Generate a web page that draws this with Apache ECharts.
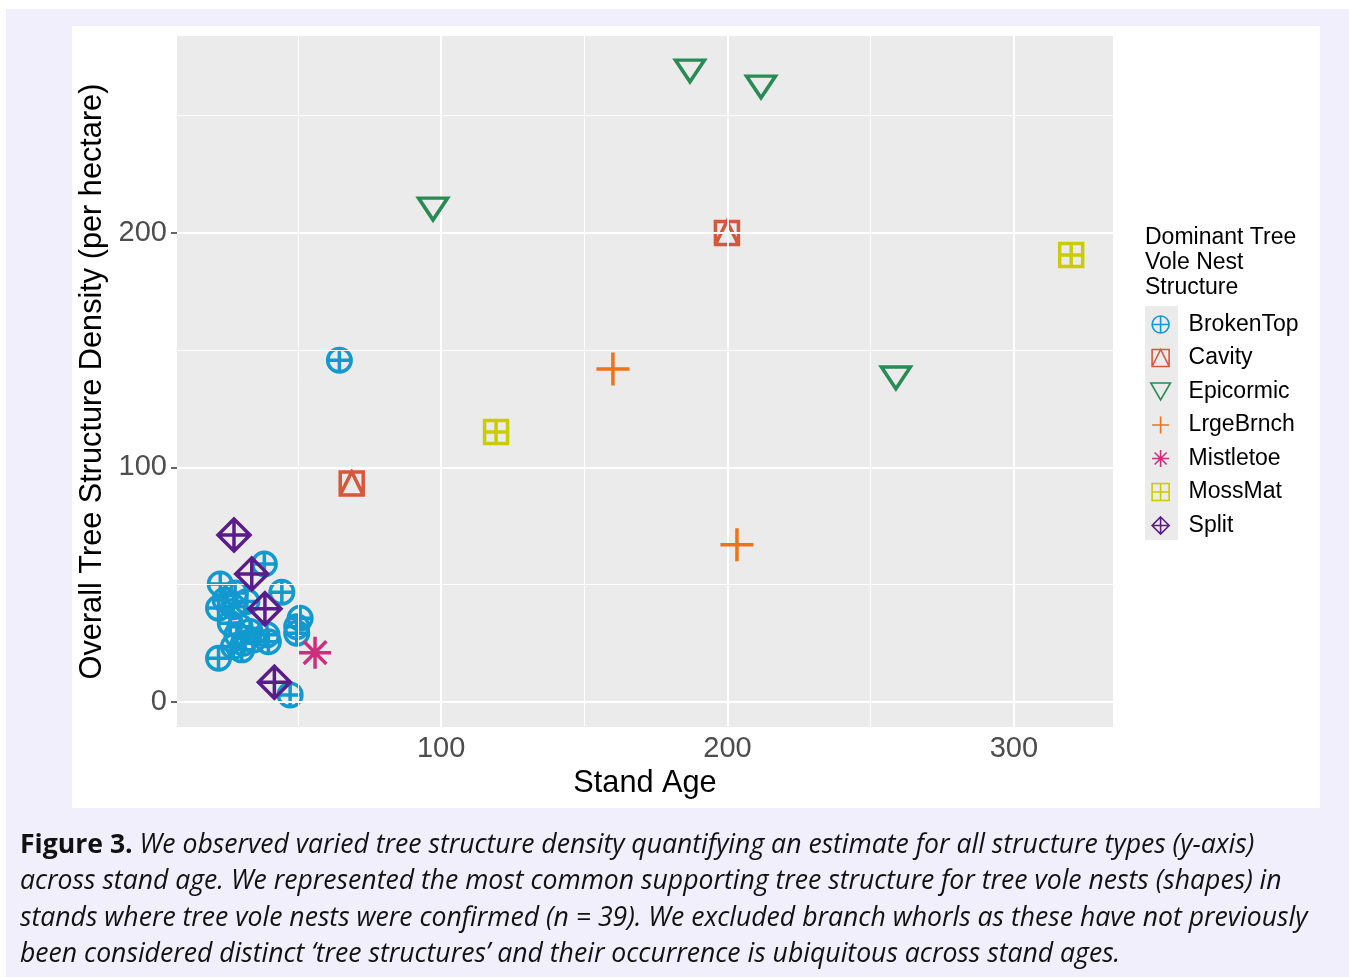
<!DOCTYPE html>
<html>
<head>
<meta charset="utf-8">
<script src="https://cdn.jsdelivr.net/npm/echarts@6/dist/echarts.min.js"></script>
<style>
  html, body { margin: 0; padding: 0; background: #ffffff; width: 1349px; height: 977px; overflow: hidden; }
  #bg { position: absolute; left: 6px; top: 9px; right: 0; bottom: 0; background: #f0effb; }
  #panel { position: absolute; left: 72px; top: 26px; width: 1248px; height: 782px; background: #ffffff; }
  #chart { position: absolute; left: 0; top: 0; width: 1349px; height: 977px; }
  #caption { position: absolute; left: 20px; top: 825px; font-family: 'Open Sans', sans-serif; font-size: 26.6px; line-height: 36.3px; color: #111; font-style: italic; white-space: nowrap; }
  #caption b { font-style: normal; font-weight: 700; }
</style>
</head>
<body>
<div id="bg"></div>
<div id="panel"></div>
<div id="chart"></div>
<div id="caption">
<div><b>Figure 3.</b> We observed varied tree structure density quantifying an estimate for all structure types (y-axis)</div>
<div>across stand age. We represented the most common supporting tree structure for tree vole nests (shapes) in</div>
<div>stands where tree vole nests were confirmed (n = 39). We excluded branch whorls as these have not previously</div>
<div>been considered distinct ‘tree structures’ and their occurrence is ubiquitous across stand ages.</div>
</div>
<script>
// ---- data: [stand age, overall tree structure density] ----
const brokenTop = [[38.3,58.8],[22.9,50.3],[44.4,46.8],[28.1,46.4],[32.2,42.8],[22.3,40.0],[27.5,40.6],[29.8,32.1],[28.7,28.6],[33.3,30.0],[39.2,28.6],[39.7,25.7],[31.0,25.0],[27.5,23.6],[22.3,18.6],[50.8,35.7],[49.6,32.1],[49.6,29.3],[47.3,3.0],[30.4,22.2],[34.5,26.4],[26.4,33.6],[24.6,43.5],[64.5,145.7]];
const cavity = [[199.8,200.0],[68.8,93.2]];
const epicormic = [[97.2,210.2],[186.9,269.1],[211.7,262.3],[258.8,138.2]];
const lrgeBrnch = [[160.0,142.0],[203.3,67.0]];
const mistletoe = [[56.0,21.0]];
const mossMat = [[119.2,115.1],[320.0,190.6]];
const split = [[27.7,71.2],[33.9,54.6],[38.5,39.7],[41.8,8.4]];

const seriesNames = ['BrokenTop','Cavity','Epicormic','LrgeBrnch','Mistletoe','MossMat','Split'];
const xTicks = [100, 200, 300];
const yTicks = [0, 100, 200];
const xMinor = [50, 150, 250];
const yMinor = [50, 150, 250];

const colors = {
  BrokenTop: '#1199d0', Cavity: '#d5583c', Epicormic: '#288b55', LrgeBrnch: '#f07216',
  Mistletoe: '#cc2f7c', MossMat: '#cacc00', Split: '#5a1b8b'
};
const symbols = {
  BrokenTop: 'path://M0,10 A10,10 0 1,1 20,10 A10,10 0 1,1 0,10 Z M10,0 L10,20 M0,10 L20,10',
  Cavity: 'path://M0,0 L20,0 L20,20 L0,20 Z M0,20 L10,0 L20,20',
  Epicormic: 'path://M0,0 L20,0 L10,17.32 Z',
  LrgeBrnch: 'path://M10,0 L10,20 M0,10 L20,10',
  Mistletoe: 'path://M10,0 L10,20 M0,10 L20,10 M2.93,2.93 L17.07,17.07 M2.93,17.07 L17.07,2.93',
  MossMat: 'path://M0,0 L20,0 L20,20 L0,20 Z M10,0 L10,20 M0,10 L20,10',
  Split: 'path://M10,0 L20,10 L10,20 L0,10 Z M10,0 L10,20 M0,10 L20,10'
};
const sizes = {
  BrokenTop: [23.5,23.5], Cavity: [23,23], Epicormic: [29,25.1], LrgeBrnch: [33,33],
  Mistletoe: [32,32], MossMat: [23,23], Split: [32,32]
};
const dataMap = { BrokenTop: brokenTop, Cavity: cavity, Epicormic: epicormic, LrgeBrnch: lrgeBrnch, Mistletoe: mistletoe, MossMat: mossMat, Split: split };

const FONT = 'Liberation Sans';
const chart = echarts.init(document.getElementById('chart'), null, { renderer: 'canvas' });

const gridSeries = {
  type: 'scatter', name: '_grid', data: [], silent: true, z: 1,
  markLine: {
    silent: true, symbol: 'none', animation: false,
    label: { show: false },
    data: [
      ...xMinor.map(v => ({ xAxis: v, lineStyle: { color: '#ffffff', width: 1, type: 'solid' } })),
      ...yMinor.map(v => ({ yAxis: v, lineStyle: { color: '#ffffff', width: 1, type: 'solid' } })),
      ...xTicks.map(v => ({ xAxis: v, lineStyle: { color: '#ffffff', width: 2, type: 'solid' } })),
      ...yTicks.map(v => ({ yAxis: v, lineStyle: { color: '#ffffff', width: 2, type: 'solid' } }))
    ]
  }
};

const order = ['BrokenTop','Cavity','Epicormic','LrgeBrnch','Mistletoe','MossMat','Split'];
const scatterSeries = order.map((n, i) => ({
  type: 'scatter', name: n, data: dataMap[n], z: 3 + i,
  symbol: symbols[n], symbolSize: sizes[n], symbolKeepAspect: true,
  itemStyle: { color: 'rgba(0,0,0,0)', borderColor: colors[n], borderWidth: 3.5, opacity: 1 },
  emphasis: { disabled: true }
}));

chart.setOption({
  animation: false,
  textStyle: { fontFamily: FONT },
  title: [{
    text: 'Dominant Tree\nVole Nest\nStructure', left: 1145, top: 225.5, padding: 0,
    textStyle: { fontFamily: FONT, fontSize: 23, lineHeight: 25, fontWeight: 'normal', color: '#000' }
  }],
  graphic: [{
    type: 'rect', shape: { x: 1145, y: 306, width: 33, height: 234 },
    style: { fill: '#ebebeb' }, z: -1, silent: true
  }],
  legend: {
    orient: 'vertical', left: 1150, top: 313, padding: 0, itemWidth: 32, itemHeight: 17, itemGap: 10.5,
    data: seriesNames,
    itemStyle: { borderWidth: 1.6 },
    textStyle: { fontFamily: FONT, fontSize: 23, color: '#000', padding: [0, 0, 0, 7] },
    selectedMode: false
  },
  grid: { left: 177, top: 36, width: 936, height: 691, show: true, backgroundColor: '#ebebeb', borderWidth: 0, containLabel: false },
  xAxis: {
    type: 'value', min: 7.8, max: 334.6,
    name: 'Stand Age', nameLocation: 'middle', nameGap: 38,
    nameTextStyle: { fontFamily: FONT, fontSize: 30.7, color: '#000' },
    axisLine: { show: false },
    axisTick: { show: true, customValues: xTicks, length: 6, lineStyle: { color: '#333', width: 1.5 } },
    axisLabel: { customValues: xTicks, fontFamily: FONT, fontSize: 29, color: '#4d4d4d', margin: 7 },
    splitLine: { show: false }, minorSplitLine: { show: false }
  },
  yAxis: {
    type: 'value', min: -10.7, max: 284,
    name: 'Overall Tree Structure Density (per hectare)', nameLocation: 'middle', nameGap: 59,
    nameTextStyle: { fontFamily: FONT, fontSize: 30.7, color: '#000' },
    axisLine: { show: false },
    axisTick: { show: true, customValues: yTicks, length: 6, lineStyle: { color: '#333', width: 1.5 } },
    axisLabel: { customValues: yTicks, fontFamily: FONT, fontSize: 29, color: '#4d4d4d', margin: 10 },
    splitLine: { show: false }
  },
  series: [gridSeries, ...scatterSeries]
});
</script>
</body>
</html>
